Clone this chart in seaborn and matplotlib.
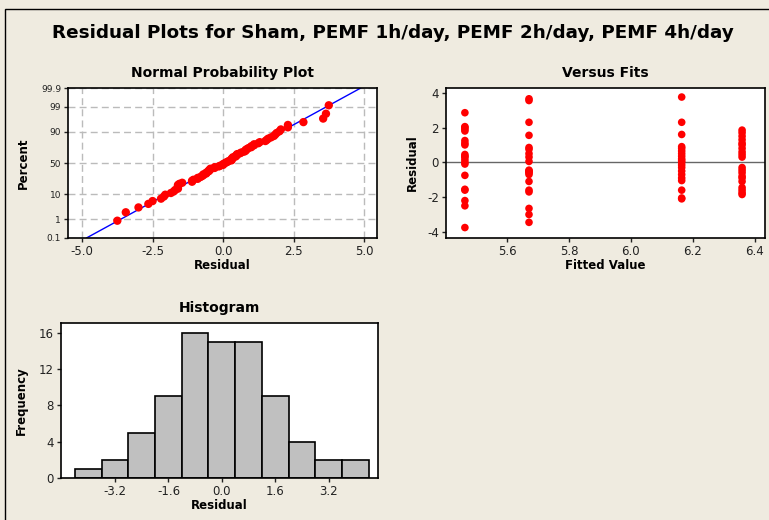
import matplotlib
matplotlib.use("Agg")
import matplotlib.pyplot as plt
import seaborn as sns
import numpy as np
from statistics import NormalDist
from matplotlib.patches import Rectangle

# residuals, one list per treatment group
res_sham = [2.85, 2.05, 2.0, 1.9, 1.8, 1.25, 1.1, 1.0, 0.45, 0.35, 0.3, 0.15, 0.0, -0.1,
            -0.75, -1.55, -1.6, -2.2, -2.5, -3.75]
res_1h = [3.65, 3.55, 2.3, 1.55, 0.85, 0.75, 0.5, 0.3, 0.05, -0.45, -0.5, -0.55, -0.6,
          -0.7, -1.1, -1.6, -1.7, -2.65, -3.0, -3.45]
res_2h = [3.75, 2.3, 1.6, 0.9, 0.8, 0.65, 0.5, 0.35, 0.2, 0.1, 0.0, -0.15, -0.3, -0.5,
          -0.7, -0.9, -1.05, -1.6, -2.05, -2.1]
res_4h = [1.85, 1.7, 1.5, 1.3, 1.1, 1.0, 0.8, 0.6, 0.45, 0.3, -0.3, -0.45, -0.6, -0.8,
          -0.9, -1.1, -1.45, -1.6, -1.75, -1.85]
fitted_vals = [5.464, 5.671, 6.164, 6.359]

pct_ticks = [0.1, 1, 10, 50, 90, 99, 99.9]
pct_labels = ["0.1", "1", "10", "50", "90", "99", "99.9"]
hist_edges = [-4.4, -3.6, -2.8, -2.0, -1.2, -0.4, 0.4, 1.2, 2.0, 2.8, 3.6, 4.4]

BG = "#EFEBE0"
sns.set_style("white")
plt.rcParams["font.family"] = ["DejaVu Sans"]
plt.rcParams["text.color"] = "black"
plt.rcParams["axes.labelcolor"] = "black"
plt.rcParams["axes.edgecolor"] = "black"
plt.rcParams["xtick.color"] = "#222222"
plt.rcParams["ytick.color"] = "#222222"

groups = [res_sham, res_1h, res_2h, res_4h]
resid = np.array(sum(groups, []))
fits = np.concatenate([[f] * len(g) for f, g in zip(fitted_vals, groups)])

W, H = 769, 520
fig = plt.figure(figsize=(W / 100, H / 100), dpi=100, facecolor=BG)

def px_axes(l, t, r, b):
    return fig.add_axes([l / W, 1 - b / H, (r - l) / W, (b - t) / H])

# frame line around the window (top + left only visible)
fig.patches.append(Rectangle((5 / W, -0.1), 1.2, 1 - 9 / H + 0.1, transform=fig.transFigure,
                             fill=False, edgecolor="black", linewidth=1.0))

fig.text(393 / W, 1 - 33 / H, "Residual Plots for Sham, PEMF 1h/day, PEMF 2h/day, PEMF 4h/day",
         ha="center", va="center", fontsize=13.2, fontweight="bold", color="black")

nd = NormalDist()

# ---- normal probability plot
ax1 = px_axes(68, 88, 377, 238)
srt = np.sort(resid)
n = len(srt)
ranks = (np.arange(1, n + 1) - 0.3) / (n + 0.4)
zq = np.array([nd.inv_cdf(p) for p in ranks])
mu, sd = resid.mean(), resid.std(ddof=1)
zlo, zhi = nd.inv_cdf(0.001), nd.inv_cdf(0.999)
sns.lineplot(x=[mu + sd * zlo, mu + sd * zhi], y=[zlo, zhi], ax=ax1, color="#0000FF", linewidth=1.0)
sns.scatterplot(x=srt, y=zq, ax=ax1, color="#FF0000", s=36, edgecolor="none", zorder=3)
ax1.set_xlim(-5.5, 5.46)
ax1.set_ylim(zlo, zhi)
ax1.set_xticks([-5.0, -2.5, 0.0, 2.5, 5.0])
ax1.set_xticklabels(["-5.0", "-2.5", "0.0", "2.5", "5.0"], fontsize=8.5)
ax1.set_yticks([nd.inv_cdf(p / 100) for p in pct_ticks])
ax1.set_yticklabels(pct_labels, fontsize=6.5)
ax1.grid(True, color="#BBBBBB", linestyle=(0, (5, 3)), linewidth=1.0)
ax1.set_xlabel("Residual", fontsize=8.5, fontweight="bold", labelpad=1)
ax1.set_ylabel("Percent", fontsize=8.5, fontweight="bold", labelpad=8)
ax1.set_title("Normal Probability Plot", fontsize=10, fontweight="bold", pad=8)

# ---- versus fits
ax2 = px_axes(446, 88, 765, 238)
ax2.axhline(0, color="#666666", linewidth=1.0, zorder=1)
sns.scatterplot(x=fits, y=resid, ax=ax2, color="#FF0000", s=30, edgecolor="none", zorder=3)
ax2.set_xlim(5.403, 6.433)
ax2.set_ylim(-4.35, 4.27)
ax2.set_xticks([5.6, 5.8, 6.0, 6.2, 6.4])
ax2.set_xticklabels(["5.6", "5.8", "6.0", "6.2", "6.4"], fontsize=8.5)
ax2.set_yticks([-4, -2, 0, 2, 4])
ax2.set_yticklabels(["-4", "-2", "0", "2", "4"], fontsize=8.5)
ax2.set_xlabel("Fitted Value", fontsize=8.5, fontweight="bold", labelpad=1)
ax2.set_ylabel("Residual", fontsize=8.5, fontweight="bold", labelpad=6)
ax2.set_title("Versus Fits", fontsize=10, fontweight="bold", pad=8)

# ---- histogram
ax3 = px_axes(61, 323, 378, 478)
sns.histplot(resid, bins=hist_edges, ax=ax3, color="#C0C0C0", edgecolor="black",
             linewidth=1.2, alpha=1)
ax3.set_xlim(-4.82, 4.68)
ax3.set_ylim(0, 17.1)
ax3.set_xticks([-3.2, -1.6, 0.0, 1.6, 3.2])
ax3.set_xticklabels(["-3.2", "-1.6", "0.0", "1.6", "3.2"], fontsize=8.5)
ax3.set_yticks([0, 4, 8, 12, 16])
ax3.set_yticklabels(["0", "4", "8", "12", "16"], fontsize=8.5)
ax3.set_xlabel("Residual", fontsize=8.5, fontweight="bold", labelpad=1)
ax3.set_ylabel("Frequency", fontsize=8.5, fontweight="bold", labelpad=8)
ax3.set_title("Histogram", fontsize=10, fontweight="bold", pad=8)

for ax in (ax1, ax2, ax3):
    ax.set_facecolor("white")
    for sp in ax.spines.values():
        sp.set_visible(True)
        sp.set_linewidth(1.2)
        sp.set_color("black")
    ax.tick_params(axis="both", direction="out", length=3, width=1, pad=2, left=True, bottom=True)

fig.savefig("out.png", dpi=100, facecolor=BG)
